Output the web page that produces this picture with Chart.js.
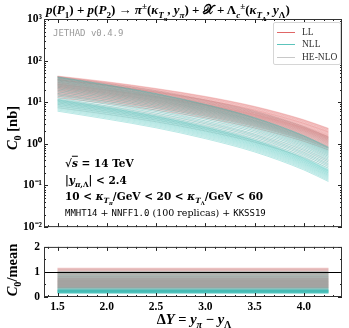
<!DOCTYPE html>
<html lang="en">
<head>
<meta charset="UTF-8">
<title>C0 vs Delta Y</title>
<script src="https://cdn.jsdelivr.net/npm/chart.js"></script>
<style>
    body { margin: 0; background: #fff; font-family: "Liberation Serif", serif; }
    #wrap { position: relative; width: 349px; height: 328px; overflow: hidden; }
    .box { position: absolute; left: 0; width: 349px; }
    #top { top: 0; height: 236px; }
    #bot { top: 236px; height: 92px; }
    .txt { position: absolute; white-space: nowrap; color: #000; font-weight: bold; line-height: 1; }
    .math i { font-style: italic; }
    sub, sup { font-size: 70%; line-height: 0; }
    #title { left: 46px; top: 3px; font-size: 13px; }
    #jethad { left: 53px; top: 28px; font: 9px "DejaVu Sans Mono", monospace; color: #9a9a9a; font-weight: normal; }
    #legend { position: absolute; left: 273px; top: 22px; width: 66px; height: 41px; border: 1px solid #d6d6d6; border-radius: 2px; background: #fff; }
    .lg { position: absolute; left: 3px; font-size: 9.5px; font-weight: normal; color: #333; white-space: nowrap; }
    .lg span { display: inline-block; width: 18px; height: 0; border-top: 1.2px solid; vertical-align: middle; margin-right: 7px; }
    #ytitle1, #ytitle2 { transform: translate(-50%, -50%) rotate(-90deg); font-size: 14.5px; }
    #ytitle1 { left: 12px; top: 128px; }
    #ytitle2 { left: 12px; top: 270px; }
    #xtitle { left: 194px; top: 319px; transform: translate(-50%, -50%); font-size: 14.5px; }
    .ann { left: 65px; font-family: "DejaVu Serif", serif; font-size: 10.5px; transform: translateY(-50%); }
    .mono { font-family: "DejaVu Sans Mono", monospace; font-size: 9px; }
</style>
</head>
<body>
<div id="wrap">
    <div class="box" id="top"><canvas id="c1" width="349" height="236"></canvas></div>
    <div class="box" id="bot"><canvas id="c2" width="349" height="92"></canvas></div>

    <div class="txt math" id="title"><i>p</i>(<i>P</i><sub>1</sub>) + <i>p</i>(<i>P</i><sub>2</sub>) → <i>π</i><sup>±</sup>(<i>κ</i><sub><i>T<sub>π</sub></i></sub>, <i>y<sub>π</sub></i>) + 𝒳 + Λ<sub><i>c</i></sub><sup>±</sup>(<i>κ</i><sub><i>T</i><sub>Λ</sub></sub>, <i>y</i><sub>Λ</sub>)</div>
    <div class="txt" id="jethad">JETHAD v0.4.9</div>
    <div id="legend">
        <div class="lg" style="top:4px"><span style="color:#e06666"></span>LL</div>
        <div class="lg" style="top:16px"><span style="color:#5cc4bc"></span>NLL</div>
        <div class="lg" style="top:29px"><span style="color:#c8c8c8"></span>HE-NLO</div>
    </div>
    <div class="txt math ann" style="top:163px">√<span style="text-decoration:overline"><i>s</i></span> = 14 TeV</div>
    <div class="txt math ann" style="top:180px">|<i>y</i><sub><i>π</i>,Λ</sub>| &lt; 2.4</div>
    <div class="txt math ann" style="top:197px">10 &lt; <i>κ</i><sub><i>T<sub>π</sub></i></sub>/GeV &lt; 20 &lt; <i>κ</i><sub><i>T</i><sub>Λ</sub></sub>/GeV &lt; 60</div>
    <div class="txt ann" style="top:213px; font-size:9.5px; font-weight:normal"><span class="mono">MMHT14</span> + <span class="mono">NNFF1.0</span> (100 replicas) + <span class="mono">KKSS19</span></div>
    <div class="txt math" id="ytitle1"><i>C</i><sub>0</sub> [nb]</div>
    <div class="txt math" id="ytitle2"><i>C</i><sub>0</sub>/mean</div>
    <div class="txt math" id="xtitle">Δ<i>Y</i> = <i>y<sub>π</sub></i> − <i>y</i><sub>Λ</sub></div>
</div>

<script>
    // rapidity interval points
    const DY = [1.5, 2.0, 2.5, 3.0, 3.5, 4.0, 4.25];

    // reference curve per approach [nb]
    const LL_MEAN = [37, 27, 18.6, 12, 6.9, 3.3, 2.05];
    const NLL_MEAN = [40.7, 26.3, 16.2, 8.9, 4.27, 1.58, 0.83];
    const HE_MEAN = [37, 25.7, 17, 10.2, 5.5, 2.34, 1.32];

    // replica / mean ratios
    const LL_RATIO = [1.15, 1.12, 1.09, 1.05, 1.02, 0.98, 0.95, 0.93, 0.9, 0.87, 0.84, 0.81, 0.79, 0.76, 0.74, 0.72,
        0.7, 0.68, 0.66, 0.64, 0.62, 0.6, 0.58, 0.56, 0.54, 0.52, 0.5, 0.48, 0.46, 0.44, 0.42, 0.4, 0.38, 0.35];
    const NLL_RATIO = [1.0, 0.97, 0.93, 0.88, 0.84, 0.8, 0.76, 0.72, 0.68, 0.64, 0.6, 0.56, 0.52, 0.48, 0.44, 0.4,
        0.37, 0.34, 0.31, 0.29, 0.28, 0.27, 0.26, 0.25, 0.24, 0.23, 0.22, 0.21, 0.2, 0.19, 0.18, 0.17, 0.16, 0.15];
    const HE_RATIO = [1.12, 1.08, 1.04, 1.0, 0.96, 0.92, 0.88, 0.84, 0.8, 0.76, 0.72, 0.68, 0.65, 0.62, 0.59, 0.56,
        0.53, 0.5, 0.47, 0.44, 0.41, 0.38, 0.35, 0.32, 0.3, 0.28, 0.26, 0.24, 0.22, 0.2];

    const Y_TICKS = [0.01, 0.1, 1, 10, 100, 1000];
    const Y_TICK_LABELS = ['10⁻²', '10⁻¹', '10⁰', '10¹', '10²', '10³'];
    const X_TICKS = [1.5, 2.0, 2.5, 3.0, 3.5, 4.0];
    const R_TICKS = [0, 1, 2];
    const X_MIN = 1.3625, X_MAX = 4.3875;

    const COL = {
        LL: 'rgba(214, 52, 52, 0.22)',
        NLL: 'rgba(24, 178, 168, 0.3)',
        HE: 'rgba(110, 110, 110, 0.18)'
    };
    const tickFont = { family: 'Liberation Serif', size: 11.5, weight: 'bold' };

    function replicaSets(mean, ratios, color) {
        return ratios.map(r => ({
            data: DY.map((x, i) => ({ x: x, y: mean[i] * r })),
            borderColor: color, borderWidth: 1, pointRadius: 0, cubicInterpolationMode: 'monotone'
        }));
    }
    function ratioSets(ratios, color) {
        return ratios.map(r => ({
            data: [{ x: DY[0], y: r }, { x: DY[DY.length - 1], y: r }],
            borderColor: color, borderWidth: 1, pointRadius: 0
        }));
    }

    // inward ticks on all four sides + frame
    const frameTicks = {
        id: 'frameTicks',
        afterDatasetsDraw(chart, args, opts) {
            const { ctx, chartArea: a, scales } = chart;
            ctx.save();
            ctx.strokeStyle = '#222';
            ctx.lineWidth = 1;
            const line = (x1, y1, x2, y2) => { ctx.beginPath(); ctx.moveTo(x1, y1); ctx.lineTo(x2, y2); ctx.stroke(); };
            opts.x.forEach(([v, len]) => {
                const px = Math.round(scales.x.getPixelForValue(v)) + 0.5;
                line(px, a.top, px, a.top + len);
                line(px, a.bottom, px, a.bottom - len);
            });
            opts.y.forEach(([v, len]) => {
                const py = Math.round(scales.y.getPixelForValue(v)) + 0.5;
                line(a.left, py, a.left + len, py);
                line(a.right, py, a.right - len, py);
            });
            if (opts.refLine !== undefined) {
                const py = Math.round(scales.y.getPixelForValue(opts.refLine)) + 0.5;
                ctx.strokeStyle = '#000';
                line(a.left, py, a.right, py);
            }
            ctx.strokeStyle = '#333';
            ctx.strokeRect(a.left + 0.5, a.top + 0.5, a.width - 1, a.height - 1);
            ctx.restore();
        }
    };

    const xTickMarks = [];
    for (let k = 14; k <= 43; k++) {
        const v = k / 10;
        xTickMarks.push([v, k % 5 === 0 ? 4 : 2]);
    }
    const logTickMarks = [];
    for (let e = -2; e <= 2; e++) {
        for (let m = 1; m <= 9; m++) logTickMarks.push([m * Math.pow(10, e), m === 1 ? 4 : 2]);
    }
    logTickMarks.push([1000, 4]);
    const ratioTickMarks = [[0, 4], [0.5, 2], [1, 4], [1.5, 2], [2, 4]];

    new Chart(document.getElementById('c1'), {
        type: 'line',
        data: {
            datasets: [
                ...replicaSets(NLL_MEAN, NLL_RATIO, COL.NLL),
                ...replicaSets(LL_MEAN, LL_RATIO, COL.LL),
                ...replicaSets(HE_MEAN, HE_RATIO, COL.HE)
            ]
        },
        options: {
            responsive: false,
            animation: false,
            layout: { padding: { top: 19, right: 7, bottom: 6, left: 0 } },
            plugins: {
                legend: { display: false },
                tooltip: { enabled: false },
                frameTicks: { x: xTickMarks, y: logTickMarks }
            },
            scales: {
                x: { type: 'linear', min: X_MIN, max: X_MAX, display: false },
                y: {
                    type: 'logarithmic', min: 0.01, max: 1000,
                    grid: { display: false, drawTicks: false },
                    border: { display: false },
                    afterBuildTicks: s => { s.ticks = Y_TICKS.map(v => ({ value: v })); },
                    afterFit: s => { s.width = 44; },
                    ticks: {
                        autoSkip: false, padding: 2, color: '#000', font: tickFont,
                        callback: v => Y_TICK_LABELS[Y_TICKS.indexOf(v)]
                    }
                }
            }
        },
        plugins: [frameTicks]
    });

    new Chart(document.getElementById('c2'), {
        type: 'line',
        data: {
            datasets: [
                ...ratioSets(NLL_RATIO, COL.NLL),
                ...ratioSets(LL_RATIO, COL.LL),
                ...ratioSets(HE_RATIO, COL.HE)
            ]
        },
        options: {
            responsive: false,
            animation: false,
            layout: { padding: { top: 8, right: 7, bottom: 17, left: 0 } },
            plugins: {
                legend: { display: false },
                tooltip: { enabled: false },
                frameTicks: { x: xTickMarks, y: ratioTickMarks, refLine: 1 }
            },
            scales: {
                x: {
                    type: 'linear', min: X_MIN, max: X_MAX,
                    grid: { display: false, drawTicks: false },
                    border: { display: false },
                    afterBuildTicks: s => { s.ticks = X_TICKS.map(v => ({ value: v })); },
                    afterFit: s => { s.height = 14; },
                    ticks: { autoSkip: false, maxRotation: 0, padding: 3, color: '#000', font: tickFont, callback: v => v.toFixed(1) }
                },
                y: {
                    type: 'linear', min: 0, max: 2,
                    grid: { display: false, drawTicks: false },
                    border: { display: false },
                    afterBuildTicks: s => { s.ticks = R_TICKS.map(v => ({ value: v })); },
                    afterFit: s => { s.width = 44; },
                    ticks: { autoSkip: false, padding: 4, color: '#000', font: tickFont }
                }
            }
        },
        plugins: [frameTicks]
    });
</script>
</body>
</html>
